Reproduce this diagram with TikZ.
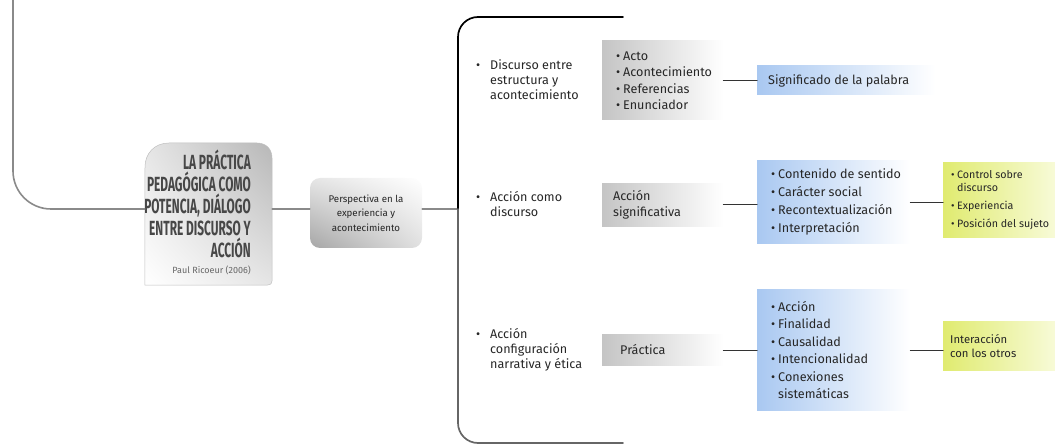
\documentclass[tikz,border=0pt]{standalone}
\usepackage{fontspec}
\setmainfont{Fira Sans}
\newfontfamily\titlefont[FakeStretch=0.58]{Fira Sans}
\usetikzlibrary{positioning,shadings}

\definecolor{texto}{HTML}{262626}
\definecolor{titulogris}{HTML}{474747}
\definecolor{lineagris}{HTML}{8A8A8A}
\definecolor{azul}{HTML}{A9C8F1}
\definecolor{amarillo}{HTML}{E0EB70}
\definecolor{amarilloclaro}{HTML}{F8FBDA}

\newcommand{\bul}[1][7pt]{\makebox[#1][l]{\textbullet}}

\begin{document}
\begin{tikzpicture}[x=1pt,y=-1pt,line cap=round,line join=round,
    every node/.style={text=texto,inner sep=0pt,font=\fontsize{12.6}{15}\selectfont},
    greyline/.style={draw=lineagris,line width=1.6pt},
    darkline/.style={draw=black!80,line width=1pt},
    graybox/.style={anchor=west,left color=black!23,right color=white,minimum width=121pt},
    bluebox/.style={anchor=west,left color=azul,right color=white,minimum width=153pt},
    yellowbox/.style={anchor=west,left color=amarillo,right color=amarilloclaro,minimum width=115pt},
    listtext/.style={align=left,anchor=west}]
  \useasboundingbox (0,0) rectangle (1055,446);

  % central node
  \node[minimum width=127pt,minimum height=142pt] (lapractica) at (208.5,214) {};
  \shade[upper left=black!10,upper right=black!28,lower left=white,lower right=black!10,draw=black!25,line width=0.5pt]
    (lapractica.south west) -- (145,167)
    .. controls (145,154) and (154,143) .. (169,143)
    -- (257,143)
    .. controls (266,143) and (272,149) .. (272,158)
    -- (272,281)
    .. controls (272,283.5) and (270.5,285) .. (268,285) -- cycle;
  \node[anchor=east,align=right,text=titulogris,font=\titlefont\bfseries\fontsize{20.5}{22}\selectfont] (titulo) at (251,204)
    {LA PRÁCTICA\\PEDAGÓGICA COMO\\POTENCIA, DIÁLOGO\\ENTRE DISCURSO Y\\ACCIÓN};
  \node[anchor=east,text=black!60,font=\fontsize{9}{10}\selectfont] (autor) at (251,270) {Paul Ricoeur (2006)};

  \node[minimum width=112pt,minimum height=70pt,rounded corners=10pt,align=center,
        upper left=black!10,upper right=white,lower left=black!35,lower right=black!12,
        font=\fontsize{9.7}{14.5}\selectfont] (perspectiva) at (366,213)
    {Perspectiva en la\\experiencia y\\acontecimiento};

  % lines on the left
  \coordinate (arriba) at (13,0);
  \draw[greyline,rounded corners=38pt] (arriba) |- ([yshift=5pt]lapractica.west);
  \draw[greyline] ([yshift=5pt]lapractica.east) -- ([yshift=5pt]lapractica.east -| perspectiva.west);

  % bracket
  \coordinate (brtop) at (623,17);
  \coordinate (brmid) at (458,209);
  \coordinate (brbot) at (623,443);
  \draw[greyline] ([yshift=4pt]perspectiva.east) -- (brmid);
  \draw[line width=1.7pt,draw=black,rounded corners=20pt] (brtop) -| (brmid);
  \draw[line width=1.7pt,draw=black!60,rounded corners=20pt] (brmid) |- (brbot);

  % first column
  \node[listtext] (discurso) at (476,80)
    {\bul[14pt]Discurso entre\\\hspace*{14pt}estructura y\\\hspace*{14pt}acontecimiento};
  \node[listtext] (accomo) at (476,204)
    {\bul[14pt]Acción como\\\hspace*{14pt}discurso};
  \node[listtext] (acconf) at (476,350)
    {\bul[14pt]Acción\\\hspace*{14pt}configuración\\\hspace*{14pt}narrativa y ética};

  % grey boxes
  \node[graybox,minimum height=79pt] (actos) at (602,80.5) {};
  \node[listtext,font=\fontsize{12.6}{16.5}\selectfont,right=14pt of actos.west] (actostxt)
    {\bul Acto\\\bul Acontecimiento\\\bul Referencias\\\bul Enunciador};
  \node[graybox,minimum height=43pt] (significativa) at (602,205) {};
  \node[listtext,font=\fontsize{12.6}{15.5}\selectfont,right=11pt of significativa.west] (significativatxt)
    {Acción\\significativa};
  \node[graybox,minimum height=30pt] (practica) at (602,350) {};
  \node[listtext,right=18pt of practica.west] (practicatxt) {Práctica};

  % blue boxes
  \node[bluebox,minimum width=178pt,minimum height=29pt] (significado) at (757,80.5) {};
  \node[listtext,right=11pt of significado.west] (significadotxt) {Significado de la palabra};
  \node[bluebox,minimum height=83pt] (contenido) at (757,202) {};
  \node[listtext,font=\fontsize{12.6}{18}\selectfont,right=14pt of contenido.west] (contenidotxt)
    {\bul Contenido de sentido\\\bul Carácter social\\\bul Recontextualización\\\bul Interpretación};
  \node[bluebox,minimum height=120pt] (acciones) at (757,350) {};
  \node[listtext,font=\fontsize{12.6}{17.5}\selectfont,right=14pt of acciones.west] (accionestxt)
    {\bul Acción\\\bul Finalidad\\\bul Causalidad\\\bul Intencionalidad\\\bul Conexiones\\\hspace*{7pt}sistemáticas};

  % yellow boxes
  \node[yellowbox,minimum height=75pt] (control) at (943,200.5) {};
  \node[listtext,font=\fontsize{10.7}{13}\selectfont,right=8pt of control.west] (controltxt)
    {\bul[6pt]Control sobre\\\hspace*{6pt}discurso\\[5pt]\bul[6pt]Experiencia\\[5pt]\bul[6pt]Posición del sujeto};
  \node[yellowbox,minimum height=48pt] (interaccion) at (943,346) {};
  \node[listtext,font=\fontsize{11.3}{14}\selectfont,right=7pt of interaccion.west] (interacciontxt)
    {Interacción\\con los otros};

  % connectors
  \draw[darkline] (actos.east) -- (actos.east -| significado.west);
  \draw[darkline] (significativa.east) -- (significativa.east -| contenido.west);
  \draw[darkline] (practica.east) -- (practica.east -| acciones.west);
  \draw[darkline] ([yshift=-1pt]contenido.east) -- ([yshift=-1pt]contenido.east -| control.west);
  \draw[darkline] (acciones.east) -- (acciones.east -| interaccion.west);
\end{tikzpicture}
\end{document}
